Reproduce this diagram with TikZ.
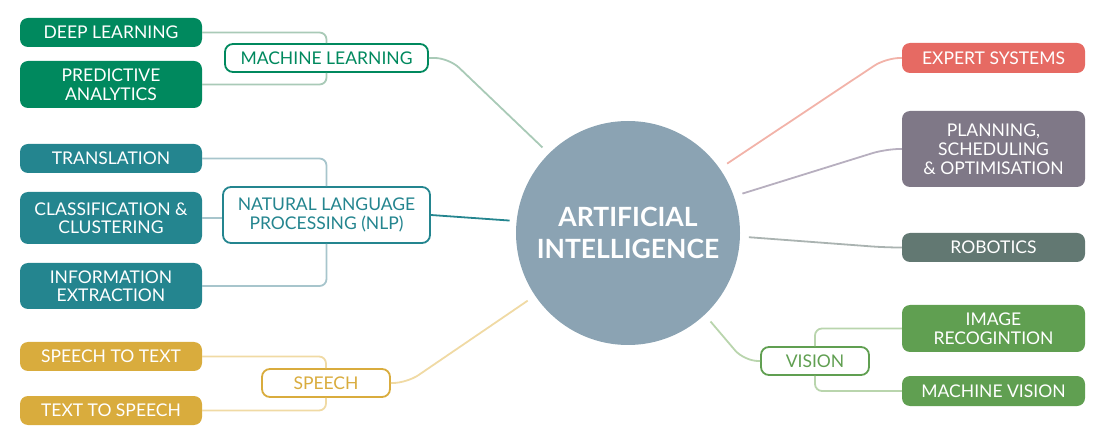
\documentclass[tikz,border=0pt]{standalone}
\usepackage{fontspec}
\setmainfont{Lato}
\usetikzlibrary{calc}
\definecolor{mlc}{HTML}{00895E}
\definecolor{mllight}{HTML}{A9CAB7}
\definecolor{nlpc}{HTML}{24858F}
\definecolor{nlplight}{HTML}{A7C5CC}
\definecolor{spc}{HTML}{D9AC3D}
\definecolor{splight}{HTML}{F0DAA4}
\definecolor{esc}{HTML}{E66A63}
\definecolor{eslight}{HTML}{F2B3A9}
\definecolor{plc}{HTML}{7F7887}
\definecolor{pllight}{HTML}{B7AFBF}
\definecolor{rbc}{HTML}{627872}
\definecolor{rblight}{HTML}{AAB3B1}
\definecolor{vic}{HTML}{609F51}
\definecolor{vilight}{HTML}{B9D5AD}
\definecolor{aic}{HTML}{8BA3B3}
\newcommand{\leaffont}{\fontsize{17.5}{18.5}\selectfont}
\begin{document}
\begin{tikzpicture}[x=1pt,y=-1pt,
  leaf/.style={rounded corners=8pt, minimum width=182pt, inner sep=0pt, text=white, align=center, font=\leaffont},
  branch/.style={rounded corners=8pt, draw, line width=1.8pt, fill=white, inner sep=0pt, align=center, font=\leaffont},
  link/.style={line width=1.8pt, rounded corners=7pt},
  mainlink/.style={line width=1.8pt, rounded corners=14pt}]
\useasboundingbox (0,0) rectangle (1116,443);
% centre
\node[circle, fill=aic, minimum size=224pt, inner sep=0pt, text=white, align=center,
      font=\fontsize{26.5}{31.5}\selectfont\bfseries] (ai) at (628,233) {ARTIFICIAL\\INTELLIGENCE};
% machine learning
\node[leaf, fill=mlc, minimum height=29pt] (dl) at (111,32.5) {DEEP LEARNING};
\node[leaf, fill=mlc, minimum height=47pt] (pa) at (111,84.5) {PREDICTIVE\\ANALYTICS};
\node[branch, draw=mlc, text=mlc, minimum width=203pt, minimum height=28pt] (ml) at (326.5,58) {MACHINE LEARNING};
% nlp
\node[leaf, fill=nlpc, minimum height=29pt] (tr) at (111,158.5) {TRANSLATION};
\node[leaf, fill=nlpc, minimum height=52pt] (cc) at (111,218) {CLASSIFICATION \&\\CLUSTERING};
\node[leaf, fill=nlpc, minimum height=46pt] (ie) at (111,286) {INFORMATION\\EXTRACTION};
\node[branch, draw=nlpc, text=nlpc, minimum width=207pt, minimum height=56pt] (nlp) at (326.5,215) {NATURAL LANGUAGE\\PROCESSING (NLP)};
% speech
\node[leaf, fill=spc, minimum height=29pt] (stt) at (111,356.5) {SPEECH TO TEXT};
\node[leaf, fill=spc, minimum height=29pt] (tts) at (111,410.5) {TEXT TO SPEECH};
\node[branch, draw=spc, text=spc, minimum width=128pt, minimum height=28pt] (sp) at (326,383) {SPEECH};
% right side
\node[leaf, fill=esc, minimum width=183pt, minimum height=30pt] (es) at (993.5,58) {EXPERT SYSTEMS};
\node[leaf, fill=plc, minimum width=183pt, minimum height=76pt, font=\fontsize{17.5}{19}\selectfont] (pl) at (993.5,149) {PLANNING,\\SCHEDULING\\\& OPTIMISATION};
\node[leaf, fill=rbc, minimum width=183pt, minimum height=29pt] (rb) at (993.5,247.5) {ROBOTICS};
\node[leaf, fill=vic, minimum width=183pt, minimum height=47pt] (ir) at (993.5,328.5) {IMAGE\\RECOGINTION};
\node[leaf, fill=vic, minimum width=183pt, minimum height=30pt] (mv) at (993.5,391) {MACHINE VISION};
\node[branch, draw=vic, text=vic, minimum width=108pt, minimum height=28pt] (vi) at (815,361) {VISION};
% end points near the circle
\coordinate (eml) at ($(ai.center)!121pt!(ai.135)$);
\coordinate (enlp) at ($(ai.center)!119pt!(ai.174)$);
\coordinate (esp) at ($(ai.center)!121pt!(ai.214)$);
\coordinate (ees) at ($(ai.center)!121pt!(ai.35)$);
\coordinate (epl) at ($(ai.center)!121pt!(ai.19)$);
\coordinate (erb) at ($(ai.center)!121pt!(ai.358)$);
\coordinate (evi) at ($(ai.center)!121pt!(ai.313)$);
% brackets
\draw[link, draw=mllight] (dl.east) -| (ml.north);
\draw[link, draw=mllight] (pa.east) -| (ml.south);
\draw[link, draw=nlplight] (tr.east) -| (nlp.north);
\draw[link, draw=nlplight] (cc.east) -- (nlp.west |- cc.east);
\draw[link, draw=nlplight] (ie.east) -| (nlp.south);
\draw[link, draw=splight] (stt.east) -| (sp.north);
\draw[link, draw=splight] (tts.east) -| (sp.south);
\draw[link, draw=vilight] (vi.north) |- (ir.west);
\draw[link, draw=vilight] (vi.south) |- (mv.west);
% main links
\draw[mainlink, draw=mllight] (ml.east) -- ++(20,0) -- (eml);
\draw[mainlink, draw=nlpc] (nlp.east) -- (enlp);
\draw[mainlink, draw=splight] (sp.east) -- ++(16,0) -- (esp);
\draw[mainlink, draw=eslight] (ees) -- ([xshift=-16pt]es.west) -- (es.west);
\draw[mainlink, draw=pllight] (epl) -- ([xshift=-16pt]pl.west) -- (pl.west);
\draw[mainlink, draw=rblight] (erb) -- ([xshift=-16pt]rb.west) -- (rb.west);
\draw[mainlink, draw=vilight] (evi) -- ([xshift=-16pt]vi.west) -- (vi.west);
\end{tikzpicture}
\end{document}
